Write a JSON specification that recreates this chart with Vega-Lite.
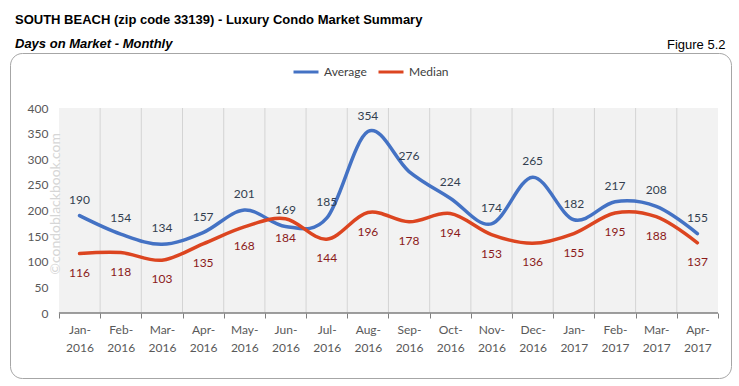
{
  "$schema": "https://vega.github.io/schema/vega-lite/v6.json",
  "width": 721,
  "height": 325,
  "autosize": {"type": "none"},
  "padding": {"left": 10, "top": 53, "right": 8, "bottom": 8},
  "background": "#ffffff",
  "title": {
    "text": "SOUTH BEACH (zip code 33139) - Luxury Condo Market Summary",
    "subtitle": "Days on Market - Monthly",
    "anchor": "start",
    "frame": "group",
    "font": "Liberation Sans",
    "fontSize": 13,
    "fontWeight": "bold",
    "color": "#000000",
    "subtitleFont": "Liberation Sans",
    "subtitleFontSize": 13,
    "subtitleFontWeight": "bold",
    "subtitleFontStyle": "italic",
    "subtitleColor": "#000000",
    "subtitlePadding": 11,
    "offset": 4,
    "dx": 5,
    "dy": 17
  },
  "datasets": {
    "dom": [
      {"month": "Jan-2016", "series": "Average", "value": 190},
      {"month": "Feb-2016", "series": "Average", "value": 154},
      {"month": "Mar-2016", "series": "Average", "value": 134},
      {"month": "Apr-2016", "series": "Average", "value": 157},
      {"month": "May-2016", "series": "Average", "value": 201},
      {"month": "Jun-2016", "series": "Average", "value": 169},
      {"month": "Jul-2016", "series": "Average", "value": 185},
      {"month": "Aug-2016", "series": "Average", "value": 354},
      {"month": "Sep-2016", "series": "Average", "value": 276},
      {"month": "Oct-2016", "series": "Average", "value": 224},
      {"month": "Nov-2016", "series": "Average", "value": 174},
      {"month": "Dec-2016", "series": "Average", "value": 265},
      {"month": "Jan-2017", "series": "Average", "value": 182},
      {"month": "Feb-2017", "series": "Average", "value": 217},
      {"month": "Mar-2017", "series": "Average", "value": 208},
      {"month": "Apr-2017", "series": "Average", "value": 155},
      {"month": "Jan-2016", "series": "Median", "value": 116},
      {"month": "Feb-2016", "series": "Median", "value": 118},
      {"month": "Mar-2016", "series": "Median", "value": 103},
      {"month": "Apr-2016", "series": "Median", "value": 135},
      {"month": "May-2016", "series": "Median", "value": 168},
      {"month": "Jun-2016", "series": "Median", "value": 184},
      {"month": "Jul-2016", "series": "Median", "value": 144},
      {"month": "Aug-2016", "series": "Median", "value": 196},
      {"month": "Sep-2016", "series": "Median", "value": 178},
      {"month": "Oct-2016", "series": "Median", "value": 194},
      {"month": "Nov-2016", "series": "Median", "value": 153},
      {"month": "Dec-2016", "series": "Median", "value": 136},
      {"month": "Jan-2017", "series": "Median", "value": 155},
      {"month": "Feb-2017", "series": "Median", "value": 195},
      {"month": "Mar-2017", "series": "Median", "value": 188},
      {"month": "Apr-2017", "series": "Median", "value": 137}
    ]
  },
  "data": {"name": "dom"},
  "layer": [
    {
      "transform": [{"filter": "datum.series == 'Average'"}],
      "mark": {"type": "rect", "fill": "#f2f2f2"},
      "encoding": {
        "x": {"field": "month", "type": "nominal",
          "scale": {"type": "band", "paddingInner": 0, "paddingOuter": 0.752, "align": 0.79,
            "domain": ["Jan-2016","Feb-2016","Mar-2016","Apr-2016","May-2016","Jun-2016","Jul-2016","Aug-2016","Sep-2016","Oct-2016","Nov-2016","Dec-2016","Jan-2017","Feb-2017","Mar-2017","Apr-2017"]},
          "axis": {"orient": "top", "labels": false, "ticks": false, "domain": false, "grid": false,
            "title": "Figure 5.2", "titleFont": "Liberation Sans", "titleFontSize": 13, "titleFontWeight": "normal",
            "titleColor": "#000000", "titleAlign": "right", "titleBaseline": "alphabetic", "titleX": 715, "titleY": -5}},
        "y": {"datum": 0, "type": "quantitative",
          "scale": {"domain": [-126.83, 507.32], "nice": false, "zero": false},
          "axis": {"values": [0,50,100,150,200,250,300,350,400], "offset": -49, "domain": false, "ticks": false, "grid": false,
            "labelPadding": 11, "labelFont": "Lato", "labelFontSize": 12, "labelColor": "#595959", "title": null}},
        "y2": {"datum": 400}
      }
    },
    {
      "transform": [{"filter": "datum.series == 'Average' && datum.month != 'Jan-2016'"}],
      "mark": {"type": "rule", "stroke": "#d4d4d4", "strokeWidth": 1},
      "encoding": {
        "x": {"field": "month", "type": "nominal", "bandPosition": 0,
          "scale": {"type": "band", "paddingInner": 0, "paddingOuter": 0.752, "align": 0.79,
            "domain": ["Jan-2016","Feb-2016","Mar-2016","Apr-2016","May-2016","Jun-2016","Jul-2016","Aug-2016","Sep-2016","Oct-2016","Nov-2016","Dec-2016","Jan-2017","Feb-2017","Mar-2017","Apr-2017"]},
          "axis": null},
        "y": {"datum": 0, "type": "quantitative",
          "scale": {"domain": [-126.83, 507.32], "nice": false, "zero": false},
          "axis": {"values": [0,50,100,150,200,250,300,350,400], "offset": -49, "domain": false, "ticks": false, "grid": false,
            "labelPadding": 11, "labelFont": "Lato", "labelFontSize": 12, "labelColor": "#595959", "title": null}},
        "y2": {"datum": 400}
      }
    },
    {
      "transform": [{"filter": "datum.series == 'Average'"}],
      "mark": {"type": "rect", "fill": "transparent", "stroke": "#7f7f7f", "strokeWidth": 1},
      "encoding": {
        "x": {"field": "month", "type": "nominal",
          "scale": {"type": "band", "paddingInner": 0, "paddingOuter": 0.752, "align": 0.79,
            "domain": ["Jan-2016","Feb-2016","Mar-2016","Apr-2016","May-2016","Jun-2016","Jul-2016","Aug-2016","Sep-2016","Oct-2016","Nov-2016","Dec-2016","Jan-2017","Feb-2017","Mar-2017","Apr-2017"]},
          "axis": null},
        "y": {"datum": 0, "type": "quantitative",
          "scale": {"domain": [-126.83, 507.32], "nice": false, "zero": false},
          "axis": {"values": [0,50,100,150,200,250,300,350,400], "offset": -49, "domain": false, "ticks": false, "grid": false,
            "labelPadding": 11, "labelFont": "Lato", "labelFontSize": 12, "labelColor": "#595959", "title": null}},
        "y2": {"datum": 0}
      }
    },
    {
      "transform": [{"filter": "datum.series == 'Average' && datum.month == 'Jan-2016'"}],
      "mark": {"type": "text", "text": "©condoblackbook.com", "angle": 270, "font": "Lato", "fontSize": 14,
        "color": "#d6d6d6", "align": "center", "baseline": "middle"},
      "encoding": {
        "x": {"field": "month", "type": "nominal", "bandPosition": -0.08,
          "scale": {"type": "band", "paddingInner": 0, "paddingOuter": 0.752, "align": 0.79,
            "domain": ["Jan-2016","Feb-2016","Mar-2016","Apr-2016","May-2016","Jun-2016","Jul-2016","Aug-2016","Sep-2016","Oct-2016","Nov-2016","Dec-2016","Jan-2017","Feb-2017","Mar-2017","Apr-2017"]},
          "axis": null},
        "y": {"datum": 213, "type": "quantitative",
          "scale": {"domain": [-126.83, 507.32], "nice": false, "zero": false},
          "axis": {"values": [0,50,100,150,200,250,300,350,400], "offset": -49, "domain": false, "ticks": false, "grid": false,
            "labelPadding": 11, "labelFont": "Lato", "labelFontSize": 12, "labelColor": "#595959", "title": null}}
      }
    },
    {
      "mark": {"type": "line", "interpolate": "cardinal", "strokeWidth": 3.5, "strokeCap": "round"},
      "encoding": {
        "x": {"field": "month", "type": "nominal",
          "scale": {"type": "band", "paddingInner": 0, "paddingOuter": 0.752, "align": 0.79,
            "domain": ["Jan-2016","Feb-2016","Mar-2016","Apr-2016","May-2016","Jun-2016","Jul-2016","Aug-2016","Sep-2016","Oct-2016","Nov-2016","Dec-2016","Jan-2017","Feb-2017","Mar-2017","Apr-2017"]},
          "axis": {"orient": "bottom", "offset": -65, "tickBand": "extent", "domain": false, "ticks": true, "tickSize": 5,
            "tickColor": "#7f7f7f", "grid": false, "labelAngle": 0, "labelFont": "Lato", "labelFontSize": 12,
            "labelColor": "#595959", "labelPadding": 6, "labelLineHeight": 18, "labelBaseline": "top", "labelOverlap": false,
            "labelExpr": "[slice(datum.label, 0, 4), slice(datum.label, 4)]", "title": null}},
        "y": {"field": "value", "type": "quantitative",
          "scale": {"domain": [-126.83, 507.32], "nice": false, "zero": false},
          "axis": {"values": [0,50,100,150,200,250,300,350,400], "offset": -49, "domain": false, "ticks": false, "grid": false,
            "labelPadding": 11, "labelFont": "Lato", "labelFontSize": 12, "labelColor": "#595959", "title": null}},
        "color": {"field": "series", "type": "nominal",
          "scale": {"domain": ["Average", "Median"], "range": ["#4472c4", "#dc4520"]},
          "legend": {"orient": "none", "legendX": 282, "legendY": 5, "direction": "horizontal", "title": null,
            "symbolType": "stroke", "symbolSize": 625, "symbolStrokeWidth": 3, "labelFont": "Lato", "labelFontSize": 12,
            "labelColor": "#404040", "labelOffset": 4, "columnPadding": 5, "padding": 0}}
      }
    },
    {
      "transform": [{"filter": "datum.series == 'Average'"}],
      "mark": {"type": "text", "font": "Lato", "fontSize": 12, "color": "#333f50", "dy": -16, "baseline": "middle"},
      "encoding": {
        "x": {"field": "month", "type": "nominal",
          "scale": {"type": "band", "paddingInner": 0, "paddingOuter": 0.752, "align": 0.79,
            "domain": ["Jan-2016","Feb-2016","Mar-2016","Apr-2016","May-2016","Jun-2016","Jul-2016","Aug-2016","Sep-2016","Oct-2016","Nov-2016","Dec-2016","Jan-2017","Feb-2017","Mar-2017","Apr-2017"]},
          "axis": null},
        "y": {"field": "value", "type": "quantitative",
          "scale": {"domain": [-126.83, 507.32], "nice": false, "zero": false},
          "axis": {"values": [0,50,100,150,200,250,300,350,400], "offset": -49, "domain": false, "ticks": false, "grid": false,
            "labelPadding": 11, "labelFont": "Lato", "labelFontSize": 12, "labelColor": "#595959", "title": null}},
        "text": {"field": "value", "type": "quantitative"}
      }
    },
    {
      "transform": [{"filter": "datum.series == 'Median'"}],
      "mark": {"type": "text", "font": "Lato", "fontSize": 12, "color": "#8b1a1a", "dy": 19, "baseline": "middle"},
      "encoding": {
        "x": {"field": "month", "type": "nominal",
          "scale": {"type": "band", "paddingInner": 0, "paddingOuter": 0.752, "align": 0.79,
            "domain": ["Jan-2016","Feb-2016","Mar-2016","Apr-2016","May-2016","Jun-2016","Jul-2016","Aug-2016","Sep-2016","Oct-2016","Nov-2016","Dec-2016","Jan-2017","Feb-2017","Mar-2017","Apr-2017"]},
          "axis": null},
        "y": {"field": "value", "type": "quantitative",
          "scale": {"domain": [-126.83, 507.32], "nice": false, "zero": false},
          "axis": {"values": [0,50,100,150,200,250,300,350,400], "offset": -49, "domain": false, "ticks": false, "grid": false,
            "labelPadding": 11, "labelFont": "Lato", "labelFontSize": 12, "labelColor": "#595959", "title": null}},
        "text": {"field": "value", "type": "quantitative"}
      }
    }
  ],
  "resolve": {"axis": {"x": "independent"}},
  "config": {
    "view": {"stroke": "#a6a6a6", "strokeWidth": 1, "cornerRadius": 12, "fill": "#ffffff"}
  }
}
